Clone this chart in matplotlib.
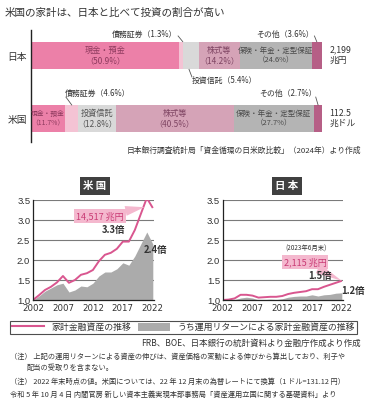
import matplotlib.pyplot as plt
from matplotlib.lines import Line2D
from matplotlib.patches import Patch

plt.rcParams['font.family'] = ['Noto Sans CJK JP', 'DejaVu Sans']

W, H = 375, 404

# household financial asset composition (%)
segments = ["現金・預金", "債務証券", "投資信託", "株式等", "保険・年金・定型保証", "その他"]
japan_share = [50.9, 1.3, 5.4, 14.2, 24.6, 3.6]
us_share = [11.7, 4.6, 12.8, 40.5, 27.7, 2.7]
countries = ["日本", "米国"]
totals = ["2,199\n兆円", "112.5\n兆ドル"]

# growth of household financial assets (2002 = 1.0)
years = list(range(2002, 2023))
us_assets = [1.00, 1.12, 1.25, 1.33, 1.44, 1.60, 1.43, 1.50, 1.63, 1.67, 1.75,
             1.97, 2.13, 2.18, 2.28, 2.46, 2.46, 2.75, 3.15, 3.55, 3.30]
us_return = [1.00, 1.10, 1.22, 1.30, 1.38, 1.42, 1.20, 1.25, 1.35, 1.33, 1.42,
             1.60, 1.70, 1.70, 1.78, 1.93, 1.87, 2.10, 2.40, 2.70, 2.40]
jp_assets = [1.00, 1.01, 1.04, 1.13, 1.13, 1.11, 1.06, 1.07, 1.08, 1.08, 1.10,
             1.15, 1.18, 1.20, 1.22, 1.27, 1.27, 1.33, 1.38, 1.43, 1.48]
jp_return = [1.00, 1.00, 1.01, 1.05, 1.07, 1.05, 1.00, 1.01, 1.02, 1.01, 1.03,
             1.07, 1.09, 1.10, 1.10, 1.13, 1.10, 1.13, 1.14, 1.17, 1.18]

seg_colors = ["#ec80a8", "#f4c3d4", "#d9d9d9", "#d5a3b7", "#b4b4b4", "#b65f86"]
seg_text = ["#8e3a5e", "#555555", "#555555", "#7e4462", "#4a4a4a", "#555555"]
LINE = "#d9568f"
AREA = "#ababab"
BOX = "#f4b8ce"
TXT = "#333333"


def rect(l, t, r, b):
    return [l / W, 1 - b / H, (r - l) / W, (b - t) / H]


def fpx(x, y):
    return (x / W, 1 - y / H)


fig = plt.figure(figsize=(W / 100, H / 100), dpi=100)

fig.text(*fpx(5, 13), "米国の家計は、日本と比べて投資の割合が高い",
         fontsize=7.6, color=TXT, va='center', ha='left')

# ---- stacked bars ----
ax = fig.add_axes(rect(31, 30, 322, 142))
ax.set_xlim(0, 100)
ax.set_ylim(1.373, -0.405)
bh = 0.43
for row, share in enumerate([japan_share, us_share]):
    left = 0
    for i, v in enumerate(share):
        ax.barh(row, v, left=left, height=bh, color=seg_colors[i], lw=0)
        left += v

ax.set_yticks([0, 1])
ax.set_yticklabels(countries, fontsize=7, color=TXT)
ax.tick_params(length=0, pad=3)
ax.set_xticks([])
for s in ["top", "right", "bottom"]:
    ax.spines[s].set_visible(False)
ax.spines["left"].set_linewidth(1)
ax.spines["left"].set_color("#222222")


def centers(share):
    out, left = [], 0
    for v in share:
        out.append(left + v / 2)
        left += v
    return out


jc = centers(japan_share)
uc = centers(us_share)

inside = [(0, 0, "現金・預金"), (0, 3, "株式等"), (0, 4, "保険・年金・定型保証"),
          (1, 0, "現金・預金"), (1, 2, "投資信託"), (1, 3, "株式等"), (1, 4, "保険・年金・定型保証")]
for row, i, name in inside:
    share = japan_share if row == 0 else us_share
    c = (jc if row == 0 else uc)[i]
    fs = 5.9
    if name == "保険・年金・定型保証":
        fs = 5.4
    if row == 1 and i == 0:
        fs = 4.9
    ax.text(c, row, f"{name}\n（{share[i]}%）", ha='center', va='center',
            fontsize=fs, color=seg_text[i], linespacing=1.25)

lc = "#555555"
# outside labels with leader lines
ax.text(jc[1] - 1.3, -0.33, f"債務証券（{japan_share[1]}%）", ha='right', va='center',
        fontsize=5.7, color=TXT)
ax.plot([jc[1] - 1.0, jc[1] + 0.6], [-0.31, -0.22], color=lc, lw=0.6)
ax.text(jc[5] - 0.9, -0.33, f"その他（{japan_share[5]}%）", ha='right', va='center',
        fontsize=5.7, color=TXT)
ax.plot([jc[5] - 0.8, jc[5]], [-0.31, -0.22], color=lc, lw=0.6)
ax.text(jc[2] + 0.4, 0.40, f"投資信託（{japan_share[2]}%）", ha='left', va='center',
        fontsize=5.7, color=TXT)
ax.plot([jc[2] - 0.6, jc[2] + 0.4], [0.22, 0.34], color=lc, lw=0.6)
ax.text(uc[1] - 2.5, 1 - 0.40, f"債務証券（{us_share[1]}%）", ha='left', va='center',
        fontsize=5.7, color=TXT)
ax.plot([uc[1] - 2.0, uc[1]], [1 - 0.34, 1 - 0.215], color=lc, lw=0.6)
ax.text(uc[5] - 0.6, 1 - 0.40, f"その他（{us_share[5]}%）", ha='right', va='center',
        fontsize=5.7, color=TXT)
ax.plot([uc[5] - 0.8, uc[5]], [1 - 0.34, 1 - 0.215], color=lc, lw=0.6)

for row, t in enumerate(totals):
    ax.text(102.5, row, t, ha='left', va='center', fontsize=6.3, color=TXT,
            linespacing=1.2, clip_on=False)

fig.text(*fpx(361, 151), "日本銀行調査統計局「資金循環の日米欧比較」（2024年）より作成",
         ha='right', va='center', fontsize=5.6, color=TXT)

# ---- line charts ----
panels = [
    ("米 国", rect(33, 200, 154, 300), us_assets, us_return, 95),
    ("日 本", rect(222.7, 200, 343, 300), jp_assets, jp_return, 287),
]
axes = []
for title, r, assets, ret, tx in panels:
    a = fig.add_axes(r)
    a.fill_between(years, 1.0, ret, color=AREA, lw=0)
    a.plot(years, assets, color=LINE, lw=1.4, solid_capstyle='butt')
    a.set_xlim(2002, 2022.2)
    a.set_ylim(1.0, 3.5)
    a.set_yticks([1.0, 1.5, 2.0, 2.5, 3.0, 3.5])
    a.set_yticklabels(["1.0", "1.5", "2.0", "2.5", "3.0", "3.5"],
                      fontsize=6.8, color=TXT, family=['Liberation Sans', 'DejaVu Sans'])
    a.set_xticks([2002, 2007, 2012, 2017, 2022])
    a.set_xticklabels(["2002", "2007", "2012", "2017", "2022"], fontsize=6.2,
                      color=TXT, family=['Liberation Sans Narrow', 'DejaVu Sans'])
    a.tick_params(axis='x', length=0, pad=3)
    a.tick_params(axis='y', length=0, pad=2)
    a.yaxis.grid(True, color="#7a7a7a", lw=0.8)
    a.set_axisbelow(True)
    for s in ["top", "right"]:
        a.spines[s].set_visible(False)
    for s in ["left", "bottom"]:
        a.spines[s].set_color("#222222")
        a.spines[s].set_linewidth(0.9)
    fig.text(*fpx(tx, 186), title, ha='center', va='center', fontsize=7.5,
             color='white', fontweight='bold',
             bbox=dict(boxstyle='square,pad=0.35', fc='#404040', ec='none'))
    axes.append(a)

ax_us, ax_jp = axes

wedge = dict(arrowstyle='wedge,tail_width=1.1,shrink_factor=0.5', fc=BOX, ec='none',
             shrinkA=0, shrinkB=0)
ax_us.annotate("14,517 兆円", xy=(2020.6, 3.32), xytext=(100, H - 216),
               textcoords='figure pixels', ha='center', va='center', fontsize=6.5,
               color="#c93a74",
               bbox=dict(boxstyle='square,pad=0.2', fc=BOX, ec='none'),
               arrowprops=wedge)
fig.text(*fpx(114, 230), "3.3倍", ha='center', va='center', fontsize=6.8,
         fontweight='bold', color=TXT)
fig.text(*fpx(156, 250), "2.4倍", ha='center', va='center', fontsize=6.8,
         fontweight='bold', color=TXT)

fig.text(*fpx(306, 249), "(2023年6月末)", ha='center', va='center', fontsize=4.6,
         color=TXT)
ax_jp.annotate("2,115 兆円", xy=(2022, 1.48), xytext=(305, H - 262),
               textcoords='figure pixels', ha='center', va='center', fontsize=6.5,
               color="#c93a74",
               bbox=dict(boxstyle='square,pad=0.2', fc=BOX, ec='none'),
               arrowprops=wedge)
fig.text(*fpx(320, 276), "1.5倍", ha='center', va='center', fontsize=6.8,
         fontweight='bold', color=TXT)
fig.text(*fpx(353, 291), "1.2倍", ha='center', va='center', fontsize=6.8,
         fontweight='bold', color=TXT)

handles = [Line2D([], [], color=LINE, lw=1.5), Patch(fc=AREA, ec='none')]
labels = ["家計金融資産の推移", "うち運用リターンによる家計金融資産の推移"]
leg = fig.legend(handles, labels, loc='center', ncol=2, mode='expand',
                 bbox_to_anchor=(10 / W, 1 - 336 / H, 347 / W, 17 / H),
                 fontsize=6.4, frameon=True, fancybox=False, edgecolor='#222222',
                 handlelength=3.6, handleheight=1.0, borderpad=0.25,
                 borderaxespad=0, labelcolor=TXT)
leg.get_frame().set_linewidth(0.8)

fig.text(*fpx(361, 343), "FRB、BOE、日本銀行の統計資料より金融庁作成より作成",
         ha='right', va='center', fontsize=6.1, color=TXT)

notes = [
    (10, 357, "（注） 上記の運用リターンによる資産の伸びは、資産価格の変動による伸びから算出しており、利子や"),
    (27, 368, "配当の受取りを含まない。"),
    (10, 382, "（注） 2022 年末時点の値。米国については、22 年 12 月末の為替レートにて換算（1 ドル=131.12 円）"),
    (10, 395, "令和 5 年 10 月 4 日 内閣官房 新しい資本主義実現本部事務局「資産運用立国に関する基礎資料」より"),
]
for x, y, t in notes:
    fig.text(*fpx(x, y), t, ha='left', va='center', fontsize=5.2, color=TXT)

fig.savefig("out.png", dpi=100, facecolor='white')
